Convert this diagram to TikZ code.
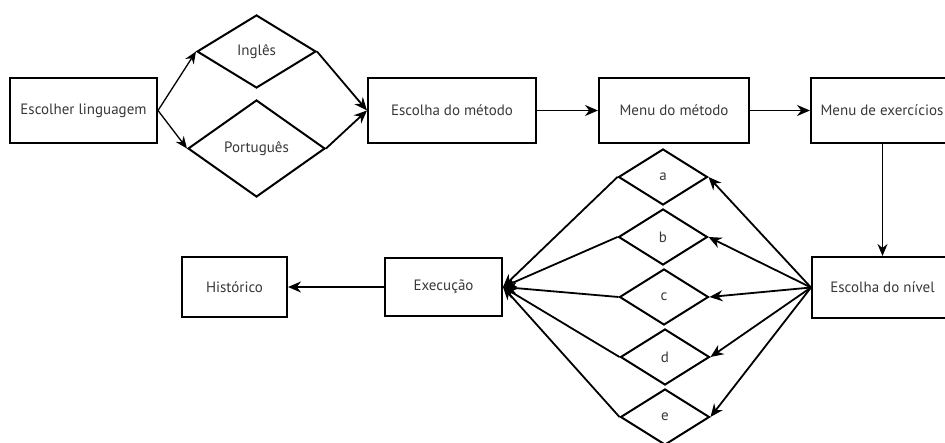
\documentclass[tikz,border=0pt]{standalone}
\usepackage{fontspec}
\setmainfont{PT Sans}
\usetikzlibrary{shapes.geometric,arrows.meta}
\begin{document}
\begin{tikzpicture}[x=1pt,y=-1pt,
  every node/.style={font=\fontsize{15}{17}\selectfont,text=black!78},
  box/.style={draw=black,line width=2pt,rectangle,inner sep=0pt},
  dia/.style={draw=black,line width=2pt,diamond,inner sep=0pt},
  conn/.style={line width=1.8pt,-{Stealth[length=13pt,width=11pt]}},
  thin conn/.style={line width=1.3pt,-{Stealth[length=12pt,width=10pt]}}]
\clip (0,0) rectangle (945,443);
\useasboundingbox (0,0) rectangle (945,443);
% top row
\node[box,minimum width=147pt,minimum height=65pt] (lang) at (83.5,110.5) {Escolher linguagem};
\node[dia,minimum width=119pt,minimum height=73pt] (ing) at (256.5,51.5) {Inglês};
\node[dia,minimum width=137pt,minimum height=97pt] (por) at (256.5,148.5) {Português};
\node[box,minimum width=168pt,minimum height=65pt] (met) at (452,110.5) {Escolha do método};
\node[box,minimum width=150pt,minimum height=65pt] (mmet) at (674,110.5) {Menu do método};
\node[box,minimum width=142pt,minimum height=65pt] (mex) at (882,110.5) {Menu de exercícios};
% bottom row
\node[box,minimum width=141pt,minimum height=61pt] (niv) at (882.5,287.5) {Escolha do nível};
\node[box,minimum width=117pt,minimum height=58pt] (exe) at (443.5,287) {Execução};
\node[box,minimum width=105pt,minimum height=60pt] (his) at (234.5,287) {Histórico};
% level diamonds
\node[dia,minimum width=89pt,minimum height=56pt] (a) at (663,177) {a};
\node[dia,minimum width=89pt,minimum height=56pt] (b) at (663,237) {b};
\node[dia,minimum width=89pt,minimum height=56pt] (c) at (664,297) {c};
\node[dia,minimum width=89pt,minimum height=56pt] (d) at (665,357) {d};
\node[dia,minimum width=89pt,minimum height=56pt] (e) at (665,417) {e};
% connectors
\draw[thin conn] (lang.east) -- (ing.west);
\draw[thin conn] (lang.east) -- (por.west);
\draw[conn] (ing.east) -- (met.west);
\draw[conn] (por.east) -- (met.west);
\draw[conn] (met.east) -- (mmet.west);
\draw[conn] (mmet.east) -- (mex.west);
\draw[thin conn] (niv.north |- mex.south) -- (niv.north);
\foreach \n in {a,b,c,d,e}{
  \draw[conn] (niv.west) -- (\n.east);
  \draw[conn] (\n.west) -- (exe.east);
}
\draw[conn] (exe.west) -- (his.east);
\end{tikzpicture}
\end{document}
